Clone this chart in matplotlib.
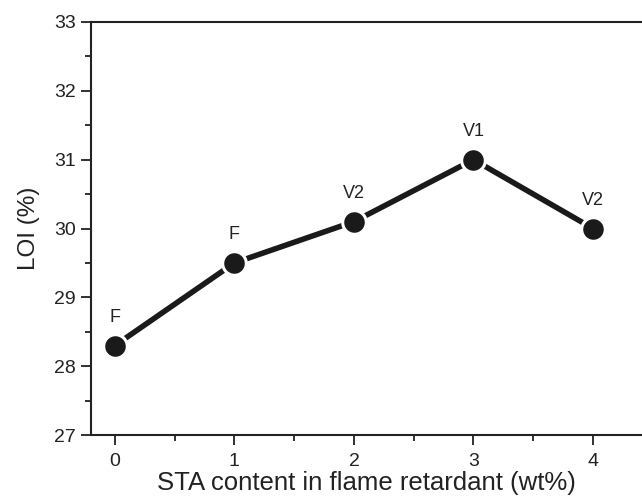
import matplotlib
matplotlib.use("Agg")
import matplotlib.pyplot as plt
from matplotlib.ticker import MultipleLocator

sta_content = [0, 1, 2, 3, 4]
loi = [28.3, 29.5, 30.1, 31.0, 30.0]
ul94 = ["F", "F", "V2", "V1", "V2"]

plt.rcParams["font.family"] = ["Liberation Sans", "DejaVu Sans"]

W, H = 642, 497
fig = plt.figure(figsize=(W / 100, H / 100), dpi=100)
ax = fig.add_axes([91 / W, (H - 435) / H, (W - 91) / W, (435 - 22) / H])

ink = "#1a1a1a"
ax.plot(sta_content, loi, "-o", color=ink, lw=4, ms=17,
        markerfacecolor=ink, markeredgecolor="white", markeredgewidth=2.2)
for x, y, s in zip(sta_content, loi, ul94):
    ax.annotate(s, (x, y), xytext=(0, 14), textcoords="offset points",
                ha="center", va="bottom", fontsize=13, color="#222222")

ax.set_xlim(-0.2, 4.41)
ax.set_ylim(27, 33)
ax.xaxis.set_major_locator(MultipleLocator(1))
ax.xaxis.set_minor_locator(MultipleLocator(0.5))
ax.yaxis.set_major_locator(MultipleLocator(1))
ax.yaxis.set_minor_locator(MultipleLocator(0.5))

ax.spines["right"].set_visible(False)
for sp in ("left", "bottom", "top"):
    ax.spines[sp].set_linewidth(1.5)
    ax.spines[sp].set_color("#222222")
ax.tick_params(which="both", direction="out", width=1.3, color="#222222",
               top=False, right=False)
ax.tick_params(which="major", length=7, labelsize=14, labelcolor="#222222")
ax.tick_params(which="minor", length=4)
ax.tick_params(axis="x", which="major", pad=6)
ax.tick_params(axis="y", which="major", pad=4)

ax.set_xlabel("STA content in flame retardant (wt%)", fontsize=18.5,
              color="#222222", labelpad=1)
ax.set_ylabel("LOI (%)", fontsize=17.5, color="#222222", labelpad=10)

fig.savefig("out.png", dpi=100)
